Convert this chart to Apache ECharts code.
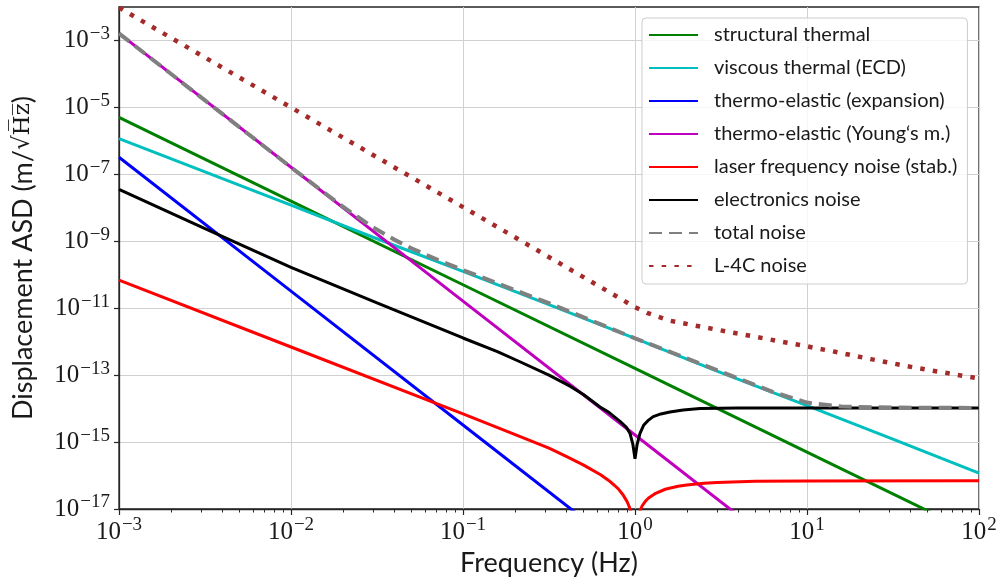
<!DOCTYPE html>
<html><head><meta charset="utf-8">
<script src="https://cdn.jsdelivr.net/npm/echarts@6/dist/echarts.min.js"></script>
<style>html,body{margin:0;padding:0;background:#fff}#c{width:1000px;height:583px}</style>
</head><body><div id="c"></div>
<script>
// All positions are decade exponents: log10(frequency / Hz), log10(ASD / (m/sqrt(Hz)))
const xTickExp = [-3, -2, -1, 0, 1, 2];
const yTickExp = [-17, -15, -13, -11, -9, -7, -5, -3];

const seriesNames = [
  'structural thermal',
  'viscous thermal (ECD)',
  'thermo-elastic (expansion)',
  'thermo-elastic (Young\u2018s m.)',
  'laser frequency noise (stab.)',
  'electronics noise',
  'total noise',
  'L-4C noise'
];

const structuralF = [-3, -2, -1, 0, 1, 2];
const structuralA = [-5.30, -7.80, -10.30, -12.80, -15.30, -17.80];

const viscousF = [-3, -2.699, -2.301, -2, -1.523, -1, -0.523, 0, 0.477, 1, 1.477, 2];
const viscousA = [-5.93, -6.53, -7.32, -7.92, -8.88, -9.90, -10.85, -11.90, -12.88, -13.91, -14.87, -15.93];

const expansionF = [-3, -2, -1, 0];
const expansionA = [-6.49, -10.49, -14.49, -18.49];

const youngF = [-3, -2, -1, 0, 1];
const youngA = [-2.79, -6.79, -10.79, -14.79, -18.79];

const laserF = [-3, -2, -1, -0.7, -0.5, -0.4, -0.301, -0.2, -0.155, -0.12, -0.097, -0.07, -0.046, -0.04, -0.0315, -0.022, 0,
                0.021, 0.03, 0.041, 0.06, 0.079, 0.12, 0.176, 0.25, 0.301, 0.4, 0.477, 0.699, 1, 2];
const laserA = [-10.16, -12.16, -14.16, -14.77, -15.18, -15.43, -15.68, -15.975, -16.14, -16.29, -16.40, -16.575, -16.78, -16.85, -16.96, -17.12, -19,
                -17.19, -17.04, -16.91, -16.77, -16.67, -16.53, -16.41, -16.32, -16.28, -16.23, -16.21, -16.17, -16.16, -16.155];

const electronicsF = [-3, -2.5, -2, -1.5, -1, -0.8, -0.669, -0.5, -0.378, -0.3, -0.203, -0.15, -0.087, -0.05, -0.029, -0.012, 0,
                      0.012, 0.029, 0.05, 0.075, 0.106, 0.15, 0.203, 0.28, 0.378, 0.6, 1, 2];
const electronicsA = [-7.45, -8.62, -9.78, -10.84, -11.89, -12.30, -12.60, -13.00, -13.33, -13.58, -13.95, -14.12, -14.38, -14.56, -14.74, -15.08, -15.50,
                      -15.08, -14.74, -14.50, -14.36, -14.24, -14.16, -14.10, -14.04, -14.00, -13.985, -13.98, -13.98];

const totalF = [-3, -2, -1.7, -1.523, -1.4, -1.3, -1.15, -1, -0.5, 0, 0.5, 0.8, 1, 1.2, 1.5, 2];
const totalA = [-2.79, -6.79, -7.96, -8.585, -8.95, -9.21, -9.55, -9.86, -10.85, -11.90, -12.90, -13.50, -13.82, -13.94, -13.97, -13.98];

const l4cF = [-3, -2, -1, -0.3, 0, 0.07, 0.2, 0.35, 0.59, 0.8, 0.96, 1.17, 1.38, 1.62, 1.86, 2];
const l4cA = [-2.02, -5.00, -7.98, -10.07, -10.97, -11.14, -11.37, -11.52, -11.75, -11.95, -12.10, -12.31, -12.53, -12.77, -12.98, -13.10];

// minor tick positions of the logarithmic frequency axis (2..9 x each decade)
const xMinorExp = [];
for (let d = -3; d < 2; d++) for (let k = 2; k <= 9; k++) xMinorExp.push(d + Math.log10(k));

const pts = (fx, ay) => fx.map((x, i) => [x, ay[i]]);
const expLabel = v => '{b|10}{s|' + (v < 0 ? '\u2212' : '') + Math.abs(v) + '}';
const labelRich = {
  b: {fontFamily: 'Liberation Serif', fontSize: 25, color: '#1a1a1a'},
  s: {fontFamily: 'Liberation Serif', fontSize: 19, color: '#1a1a1a', padding: [0, 0, 13, 1]}
};
const frameColor = '#262626';

const solid = (name, fx, ay, color) => ({
  name, type: 'line', data: pts(fx, ay), symbol: 'none', clip: true,
  lineStyle: {color, width: 3}, itemStyle: {color}
});

const series = [
  solid(seriesNames[0], structuralF, structuralA, '#008000'),
  solid(seriesNames[1], viscousF, viscousA, '#00bfbf'),
  solid(seriesNames[2], expansionF, expansionA, '#0000ff'),
  solid(seriesNames[3], youngF, youngA, '#bf00bf'),
  solid(seriesNames[4], laserF, laserA, '#ff0000'),
  solid(seriesNames[5], electronicsF, electronicsA, '#000000'),
  {name: seriesNames[6], type: 'line', data: pts(totalF, totalA), symbol: 'none', clip: true,
   lineStyle: {color: '#808080', width: 4, type: [13, 7], cap: 'butt'}, itemStyle: {color: '#808080'}},
  {name: seriesNames[7], type: 'line', data: pts(l4cF, l4cA), symbol: 'none', clip: true,
   lineStyle: {color: '#a52a2a', width: 4.5, type: [4.5, 8.2], cap: 'butt'}, itemStyle: {color: '#a52a2a'}}
];

const chart = echarts.init(document.getElementById('c'), null, {renderer: 'canvas'});
chart.setOption({
  animation: false,
  backgroundColor: '#ffffff',
  grid: {left: 119, right: 21, top: 7, bottom: 74, show: true, borderColor: frameColor, borderWidth: 1.3,
         backgroundColor: 'transparent', outerBoundsMode: 'none'},
  legend: {
    orient: 'vertical', left: 642, top: 18,
    itemWidth: 49, itemHeight: 20, itemGap: 13,
    padding: [7, 10, 8, 6],
    backgroundColor: 'rgba(255,255,255,0.8)', borderColor: '#cccccc', borderWidth: 1, borderRadius: 4,
    itemStyle: {opacity: 0},
    textStyle: {fontFamily: 'Lato', fontSize: 20, lineHeight: 20, color: '#1a1a1a', padding: [0, 0, 0, 11]},
    data: seriesNames
  },
  xAxis: [{
    type: 'value', min: -3, max: 2, interval: 1,
    axisLine: {show: true, onZero: false, lineStyle: {color: frameColor, width: 1.3}},
    axisTick: {show: true, length: 6, lineStyle: {color: frameColor, width: 1.2}},
    axisLabel: {margin: 7, formatter: expLabel, rich: labelRich},
    splitLine: {show: true, lineStyle: {color: '#d0d0d0', width: 1}},
    name: 'Frequency (Hz)', nameLocation: 'middle', nameGap: 40,
    nameTextStyle: {fontFamily: 'Lato', fontSize: 27, color: '#1a1a1a', verticalAlign: 'top'}
  }, {
    type: 'value', min: -3, max: 2, position: 'bottom',
    axisLine: {show: false}, axisLabel: {show: false}, splitLine: {show: false},
    axisTick: {show: true, length: 3.5, customValues: xMinorExp, lineStyle: {color: frameColor, width: 1}}
  }],
  yAxis: {
    type: 'value', min: -17, max: -2, interval: 2,
    axisLine: {show: true, onZero: false, lineStyle: {color: frameColor, width: 1.3}},
    axisTick: {show: true, length: 5, customValues: yTickExp, lineStyle: {color: frameColor, width: 1.2}},
    axisLabel: {margin: 9, customValues: yTickExp,
                formatter: v => (yTickExp.indexOf(v) >= 0 ? expLabel(v) : ''), rich: labelRich},
    splitLine: {show: true, lineStyle: {color: '#d0d0d0', width: 1}},
    name: 'Displacement ASD (m/{m|\u221AH\u0305z\u0305})', nameLocation: 'middle', nameGap: 82, nameRotate: 90,
    nameTextStyle: {fontFamily: 'Lato', fontSize: 27, color: '#1a1a1a',
                    rich: {m: {fontFamily: 'DejaVu Serif', fontSize: 23, color: '#1a1a1a'}}}
  },
  series
});
</script></body></html>
